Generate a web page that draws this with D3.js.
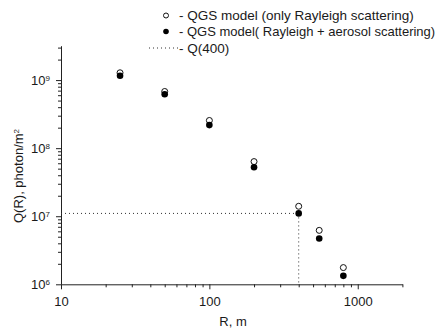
<!DOCTYPE html>
<html>
<head>
<meta charset="utf-8">
<script src="https://cdn.jsdelivr.net/npm/d3@7"></script>
<style>
  body { margin: 0; background: #fff; }
  text { font-family: "Liberation Sans", Arial, sans-serif; fill: #1a1a1a; }
</style>
</head>
<body>
<div id="chart"></div>
<script>
// distances R, m
var distances = [25, 50, 100, 200, 400, 550, 800];
// QGS model, only Rayleigh scattering (open circles)
var qRayleigh = [1.28e9, 6.8e8, 2.55e8, 6.35e7, 1.4e7, 6.2e6, 1.76e6];
// QGS model, Rayleigh + aerosol scattering (filled circles)
var qAerosol = [1.16e9, 6.2e8, 2.18e8, 5.25e7, 1.1e7, 4.7e6, 1.33e6];
// Q(400) reference
var q400R = 400, q400 = 1.1e7;

var xMajor = [10, 100, 1000];
var yMajor = [1e6, 1e7, 1e8, 1e9];
var legendLabels = [
  "- QGS model (only Rayleigh scattering)",
  "- QGS model( Rayleigh + aerosol scattering)",
  "- Q(400)"
];

var W = 440, H = 331;
var svg = d3.select("#chart").append("svg").attr("width", W).attr("height", H);

var x = d3.scaleLog().domain([10, 2000]).range([61, 402.4]);
var y = d3.scaleLog().domain([1e6, 3.2e9]).range([284.3, 45.7]);

// minor tick values
var xMinor = [];
[10, 100, 1000].forEach(function(d) {
  for (var i = 2; i <= 9; i++) if (d * i <= 2000) xMinor.push(d * i);
});
var yMinor = [];
[1e6, 1e7, 1e8, 1e9].forEach(function(d) {
  for (var i = 2; i <= 9; i++) if (d * i <= 3.2e9) yMinor.push(d * i);
});

var bottom = y.range()[0], left = x.range()[0];

// x axis
svg.append("g").attr("transform", "translate(0," + bottom + ")")
  .call(d3.axisBottom(x).tickValues(xMinor).tickSize(3).tickFormat(""))
  .call(function(g) { g.select(".domain").remove(); });
var gx = svg.append("g").attr("transform", "translate(0," + bottom + ")")
  .call(d3.axisBottom(x).tickValues(xMajor).tickSize(5).tickSizeOuter(0).tickFormat(d3.format("d")));
gx.selectAll("text").attr("font-size", 13).attr("dy", "1.05em");

// y axis
svg.append("g").attr("transform", "translate(" + left + ",0)")
  .call(d3.axisLeft(y).tickValues(yMinor).tickSize(3).tickFormat(""))
  .call(function(g) { g.select(".domain").remove(); });
var gy = svg.append("g").attr("transform", "translate(" + left + ",0)")
  .call(d3.axisLeft(y).tickValues(yMajor).tickSize(5).tickSizeOuter(0).tickFormat(""));
gy.selectAll(".tick").each(function(d) {
  var t = d3.select(this).select("text")
    .attr("x", -11).attr("dy", "0.35em").attr("font-size", 13).attr("text-anchor", "end");
  t.append("tspan").text("10");
  t.append("tspan").attr("dy", "-0.55em").attr("font-size", 8).text(Math.round(Math.log10(d)));
});
svg.selectAll(".domain, .tick line").attr("stroke", "#222");

// Q(400) dotted guide lines
svg.append("line")
  .attr("x1", left).attr("x2", x(q400R)).attr("y1", y(q400)).attr("y2", y(q400))
  .attr("stroke", "#333").attr("stroke-dasharray", "1,3");
svg.append("line")
  .attr("x1", x(q400R)).attr("x2", x(q400R)).attr("y1", y(q400)).attr("y2", bottom)
  .attr("stroke", "#333").attr("stroke-dasharray", "1,3");

// points
svg.append("g").selectAll("circle").data(distances).enter().append("circle")
  .attr("cx", function(d) { return x(d); })
  .attr("cy", function(d, i) { return y(qRayleigh[i]); })
  .attr("r", 3).attr("fill", "#fff").attr("stroke", "#111").attr("stroke-width", 1);
svg.append("g").selectAll("circle").data(distances).enter().append("circle")
  .attr("cx", function(d) { return x(d); })
  .attr("cy", function(d, i) { return y(qAerosol[i]); })
  .attr("r", 3.3).attr("fill", "#000");

// axis titles
svg.append("text").attr("x", 233).attr("y", 326).attr("text-anchor", "middle")
  .attr("font-size", 13).text("R, m");
var yl = svg.append("text").attr("transform", "translate(23,176) rotate(-90)")
  .attr("text-anchor", "middle").attr("font-size", 13);
yl.append("tspan").text("Q(R), photon/m");
yl.append("tspan").attr("dy", "-0.5em").attr("font-size", 8).text("2");

// legend
var ly = [15.5, 31.5, 48];
var leg = svg.append("g");
leg.append("circle").attr("cx", 166).attr("cy", ly[0]).attr("r", 2.5)
  .attr("fill", "#fff").attr("stroke", "#111");
leg.append("circle").attr("cx", 166).attr("cy", ly[1]).attr("r", 2.8).attr("fill", "#000");
leg.append("line").attr("x1", 149).attr("x2", 179).attr("y1", ly[2]).attr("y2", ly[2])
  .attr("stroke", "#333").attr("stroke-dasharray", "1,3");
leg.selectAll("text.l").data(legendLabels).enter().append("text")
  .attr("x", 179).attr("y", function(d, i) { return ly[i]; })
  .attr("dy", "0.35em")
  .attr("font-size", function(d, i) { return i === 1 ? 13 : 13.5; })
  .text(function(d) { return d; });
</script>
</body>
</html>
